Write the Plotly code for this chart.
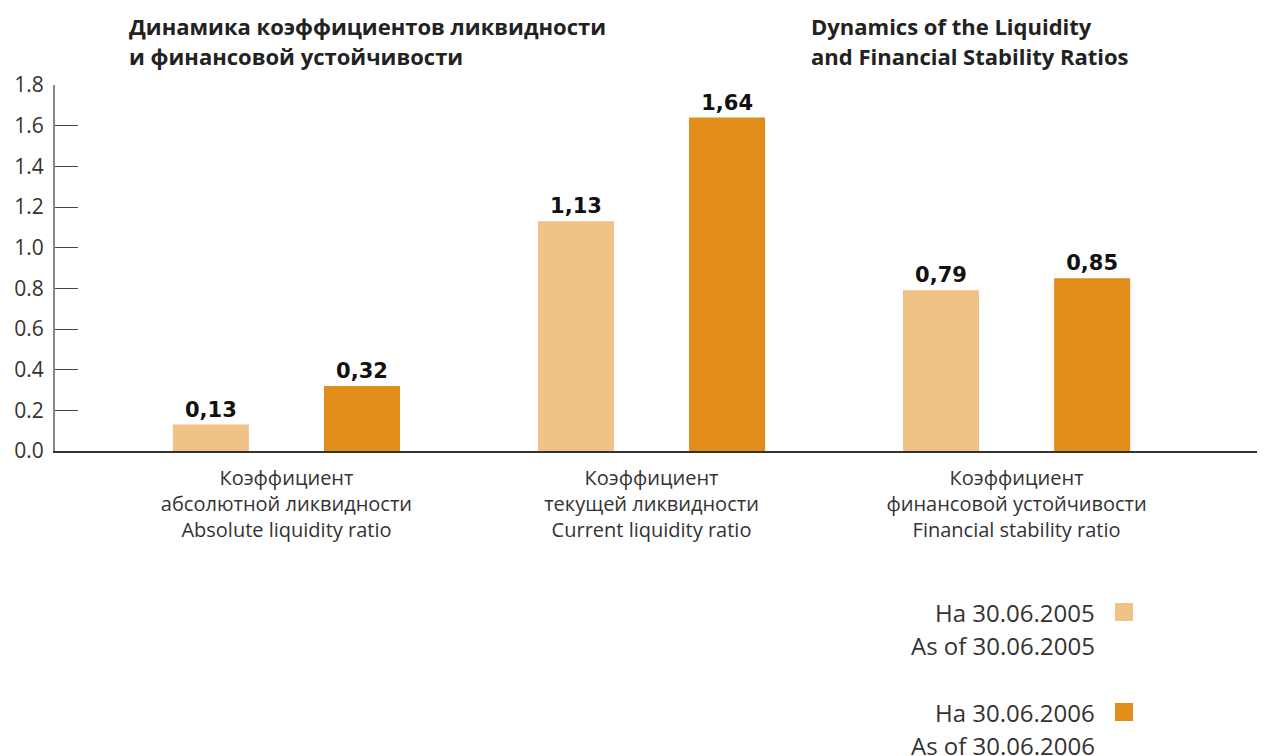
import plotly.graph_objects as go

categories = [
    "Коэффициент<br>абсолютной ликвидности<br>Absolute liquidity ratio",
    "Коэффициент<br>текущей ликвидности<br>Current liquidity ratio",
    "Коэффициент<br>финансовой устойчивости<br>Financial stability ratio",
]
values_2005 = [0.13, 1.13, 0.79]
values_2006 = [0.32, 1.64, 0.85]
series_names = ["На 30.06.2005<br>As of 30.06.2005", "На 30.06.2006<br>As of 30.06.2006"]
legend_lines = [("На 30.06.2005", "As of 30.06.2005"), ("На 30.06.2006", "As of 30.06.2006")]
colors = ["#F1C285", "#E28C1A"]
y_ticks = [0.0, 0.2, 0.4, 0.6, 0.8, 1.0, 1.2, 1.4, 1.6, 1.8]
title_ru = ["Динамика коэффициентов ликвидности", "и финансовой устойчивости"]
title_en = ["Dynamics of the Liquidity", "and Financial Stability Ratios"]

OFF = 8  # page offset of the figure inside the browser window
W, H = 1265 - OFF, 756 - OFF
L, R, T, B = 55 - OFF, 1263 - OFF, 85 - OFF, 451 - OFF  # plot area in figure pixels

def px(x):
    return (x - OFF - L) / (R - L)

def py(y):
    return (B - (y - OFF)) / (B - T)

def fmt(v):
    return f"{v:.2f}".replace(".", ",")

FONT = "Open Sans"
fig = go.Figure()
for vals, name, col in zip([values_2005, values_2006], series_names, colors):
    fig.add_trace(go.Bar(
        x=categories, y=vals, name=name, marker_color=col, marker_line_width=0,
        text=[fmt(v) for v in vals], textposition="outside", cliponaxis=False,
        textfont=dict(family="DejaVu Sans", size=21, color="#111", weight="bold"),
    ))

annotations = []
for i, line in enumerate(title_ru):
    annotations.append(dict(text=line, x=px(127), y=py(26 + 30 * i), xref="paper", yref="paper",
                            xanchor="left", yanchor="middle", showarrow=False,
                            font=dict(family=FONT, size=22, color="#222", weight="bold")))
for i, line in enumerate(title_en):
    annotations.append(dict(text=line, x=px(809), y=py(26 + 30 * i), xref="paper", yref="paper",
                            xanchor="left", yanchor="middle", showarrow=False,
                            font=dict(family=FONT, size=22, color="#222", weight="bold")))
shapes = []
for k, (l1, l2) in enumerate(legend_lines):
    y0 = 612 + 100 * k
    annotations.append(dict(text=l1, x=px(1097), y=py(y0), xref="paper", yref="paper",
                            xanchor="right", yanchor="middle", showarrow=False,
                            font=dict(family=FONT, size=24, color="#333")))
    annotations.append(dict(text=l2, x=px(1097), y=py(y0 + 33), xref="paper", yref="paper",
                            xanchor="right", yanchor="middle", showarrow=False,
                            font=dict(family=FONT, size=24, color="#333")))
    shapes.append(dict(type="rect", xref="paper", yref="paper",
                       x0=px(1115), x1=px(1133), y0=py(y0 - 9), y1=py(y0 + 9),
                       fillcolor=colors[k], line_width=0))

fig.update_layout(
    width=W, height=H,
    margin=dict(l=L, r=W - R, t=T, b=H - B, pad=0),
    paper_bgcolor="white", plot_bgcolor="white",
    barmode="group", bargap=0.172, bargroupgap=0.497,
    showlegend=False,
    font=dict(family=FONT, size=20, color="#333"),
    annotations=annotations, shapes=shapes,
    xaxis=dict(range=[-0.634, 2.675], showline=True, linecolor="#333", linewidth=1.5,
               showgrid=False, ticks="", tickfont=dict(size=20, color="#333"),
               ticklabelstandoff=8),
    yaxis=dict(range=[0, 1.8], tickvals=y_ticks, ticktext=[f"{v:.1f}" for v in y_ticks],
               showline=True, linecolor="#888", linewidth=2, showgrid=False, zeroline=False,
               ticks="inside", ticklen=23, tickcolor="#444", tickwidth=1.2,
               tickfont=dict(size=21, color="#333"), ticklabelstandoff=5),
)
fig.write_html("out.html")
